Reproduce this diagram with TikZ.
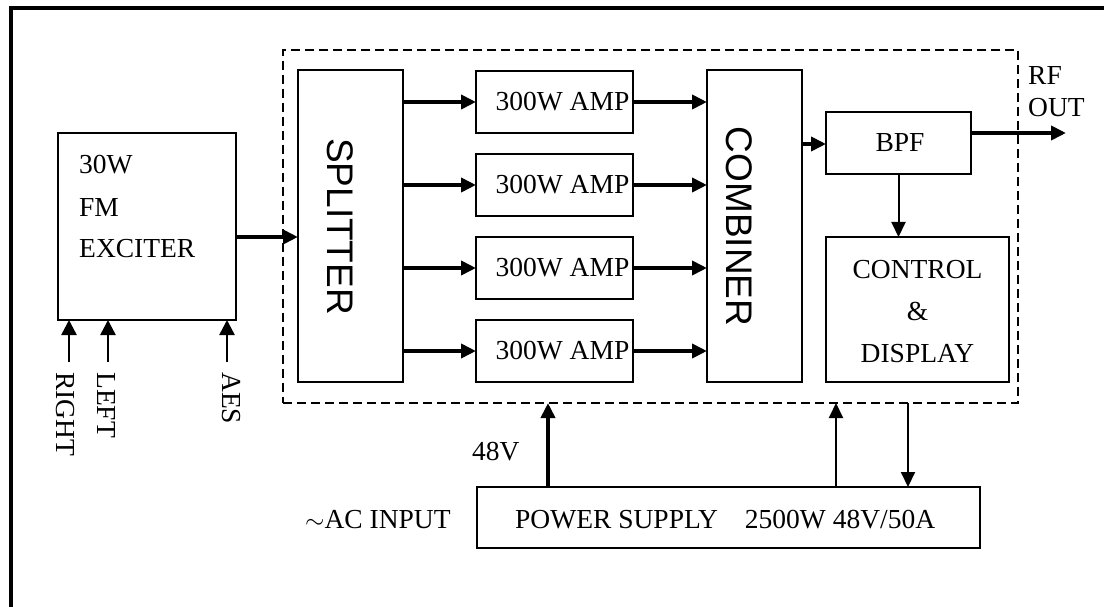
\documentclass[tikz,border=0pt]{standalone}
\usepackage{fontspec}
\setmainfont{Liberation Serif}
\setsansfont{Liberation Sans}
\usetikzlibrary{arrows.meta,calc}
\begin{document}
\begin{tikzpicture}[x=1pt,y=-1pt,
  box/.style={draw,line width=1.4pt,inner sep=0pt,outer sep=0pt},
  txt/.style={inner sep=0pt,font=\fontsize{27.5}{33}\selectfont},
  vtxt/.style={inner sep=0pt,font=\sffamily\fontsize{37}{44}\selectfont,rotate=-90},
  thickarrow/.style={line width=4pt,-{Triangle[length=15pt,width=14pt]}},
  thinarrow/.style={line width=2pt,-{Triangle[length=15pt,width=14pt]}},
  inarrow/.style={line width=2.5pt,-{Triangle[length=15pt,width=15pt]}},
]
\useasboundingbox (0,0) rectangle (1104,607);
% outer frame
\draw[line width=4pt] (11,607) -- (11,8) -- (1104,8);
% dashed enclosure
\node[draw,line width=1.3pt,dash pattern=on 9pt off 5pt,inner sep=0pt,outer sep=0pt,
      minimum width=735pt,minimum height=353pt] (dbox) at (650.5,226.5) {};
% boxes
\node[box,minimum width=178pt,minimum height=187pt] (exciter) at (147,226.5) {};
\node[box,minimum width=105pt,minimum height=312pt] (splitter) at (350.5,226) {};
\node[box,minimum width=157pt,minimum height=62pt] (amp1) at (554.5,102) {};
\node[box,minimum width=157pt,minimum height=62pt] (amp2) at (554.5,185) {};
\node[box,minimum width=157pt,minimum height=62pt] (amp3) at (554.5,268) {};
\node[box,minimum width=157pt,minimum height=62pt] (amp4) at (554.5,351) {};
\node[box,minimum width=95pt,minimum height=312pt] (combiner) at (754.5,226) {};
\node[box,minimum width=145pt,minimum height=62pt] (bpf) at (898.5,143) {};
\node[box,minimum width=183pt,minimum height=145pt] (control) at (917.5,309.5) {};
\node[box,minimum width=503pt,minimum height=61pt] (ps) at (728.5,517.5) {};
% texts
\node[txt,anchor=base west] (t30w) at (79,174) {30W};
\node[txt,anchor=base west] (tfm) at (79,216) {FM};
\node[txt,anchor=base west] (texc) at (79,257) {EXCITER};
\node[vtxt] (tsplit) at (340,226.5) {SPLITTER};
\node[vtxt] (tcomb) at (739,226.5) {COMBINER};
\node[txt] (ta1) at (562.5,102) {300W AMP};
\node[txt] (ta2) at (562.5,185) {300W AMP};
\node[txt] (ta3) at (562.5,268) {300W AMP};
\node[txt] (ta4) at (562.5,351) {300W AMP};
\node[txt] (tbpf) at (900,143) {BPF};
\node[txt,anchor=base] (tc1) at (917.5,278) {CONTROL};
\node[txt,anchor=base] (tc2) at (917.5,320) {\&};
\node[txt,anchor=base] (tc3) at (917.5,362) {DISPLAY};
\node[txt,anchor=base west] (trf) at (1028,85) {RF};
\node[txt,anchor=base west] (tout) at (1028,117) {OUT};
\node[txt,anchor=base west] (t48) at (472,460) {48V};
\node[txt,anchor=base west] (tac) at (305,528) {$\sim$AC INPUT};
\node[txt,anchor=base west] (tps) at (515,528) {POWER SUPPLY\hspace{27pt}2500W 48V/50A};
\node[txt,rotate=-90,anchor=west] (tright) at (65,372) {RIGHT};
\node[txt,rotate=-90,anchor=west] (tleft) at (106.5,372) {LEFT};
\node[txt,rotate=-90,anchor=west] (taes) at (231,372) {AES};
% coordinates
\coordinate (rin) at (69,362);
\coordinate (lin) at (108,362);
\coordinate (ain) at (227,362);
\coordinate (exo) at (236,237);
\coordinate (rfout) at (1066,133);
\coordinate (c48) at (548,0);
\coordinate (cup) at (836,0);
\coordinate (cdn) at (908,0);
% connectors
\draw[inarrow] (rin) -- (rin |- exciter.south);
\draw[inarrow] (lin) -- (lin |- exciter.south);
\draw[inarrow] (ain) -- (ain |- exciter.south);
\draw[thickarrow] (exo) -- (exo -| splitter.west);
\foreach \a in {amp1,amp2,amp3,amp4}{
  \draw[thickarrow] (splitter.east |- \a.west) -- (\a.west);
  \draw[thickarrow] (\a.east) -- (\a.east -| combiner.west);
}
\draw[thickarrow] (combiner.east |- 0,144) -- (bpf.west |- 0,144);
\draw[thickarrow] (rfout -| bpf.east) -- (rfout);
\draw[thinarrow] (bpf.south) -- (bpf.south |- control.north);
\draw[thickarrow] (c48 |- ps.north) -- (c48 |- dbox.south);
\draw[thinarrow] (cup |- ps.north) -- (cup |- dbox.south);
\draw[thinarrow] (cdn |- dbox.south) -- (cdn |- ps.north);
\end{tikzpicture}
\end{document}
